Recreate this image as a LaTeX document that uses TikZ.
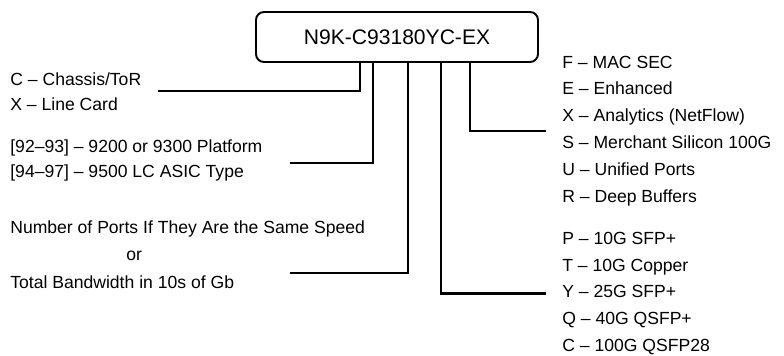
\documentclass[tikz,border=0pt]{standalone}
\usepackage{fontspec}
\setmainfont{Liberation Sans}
\usetikzlibrary{calc}

\tikzset{
  pnbox/.style={draw, line width=1.1pt, rounded corners=1.6mm,
    minimum width=56.4mm, minimum height=10mm, inner sep=0pt,
    font=\fontsize{12}{14}\selectfont},
  legend/.style={anchor=west, align=left, inner sep=0pt},
  conn/.style={line width=1.3pt, line cap=butt, line join=miter},
}

\begin{document}
\begin{tikzpicture}[x=0.2mm, y=-0.2mm]
  \useasboundingbox (0,0) rectangle (784,355);

  %========================
  % part number
  %========================
  \node[pnbox] (pn) at (397,37) {N9K-C93180YC-EX};

  %========================
  % left: type, platform, ports
  %========================
  \node[legend, font=\fontsize{10}{14.2}\selectfont] (type) at (10,91.5)
    {C -- Chassis/ToR\\X -- Line Card};
  \node[legend, font=\fontsize{10}{13.9}\selectfont] (platform) at (10,160.5)
    {[92--93] -- 9200 or 9300 Platform\\{}[94--97] -- 9500 LC ASIC Type};
  \node[legend, font=\fontsize{10}{15.6}\selectfont] (ports) at (10,254.5)
    {Number of Ports If They Are the Same Speed\\
     \hspace*{23.2mm}or\\
     Total Bandwidth in 10s of Gb};

  % free ends of the left connectors
  \coordinate (typeEnd) at (158,91);
  \coordinate (platformEnd) at (290,163);
  \coordinate (portsEnd) at (290,273);

  %========================
  % right: features, port speed
  %========================
  \node[legend, inner xsep=3.2mm, font=\fontsize{10}{15.3}\selectfont] (features) at (546,131)
    {F -- MAC SEC\\E -- Enhanced\\X -- Analytics (NetFlow)\\
     S -- Merchant Silicon 100G\\U -- Unified Ports\\R -- Deep Buffers};
  \node[legend, inner xsep=3.2mm, font=\fontsize{10}{15.3}\selectfont] (speed) at (546,293.5)
    {P -- 10G SFP+\\T -- 10G Copper\\Y -- 25G SFP+\\
     Q -- 40G QSFP+\\C -- 100G QSFP28};

  % connectors from the part number
  \draw[conn] ($(pn.south)+(-37,0)$) |- (typeEnd);
  \draw[conn] ($(pn.south)+(-24,0)$) |- (platformEnd);
  \draw[conn] ($(pn.south)+(11,0)$) |- (portsEnd);
  \draw[conn] ($(pn.south)+(44,0)$) |- (speed.west);
  \draw[conn] ($(pn.south)+(73,0)$) |- (features.west);

\end{tikzpicture}
\end{document}
